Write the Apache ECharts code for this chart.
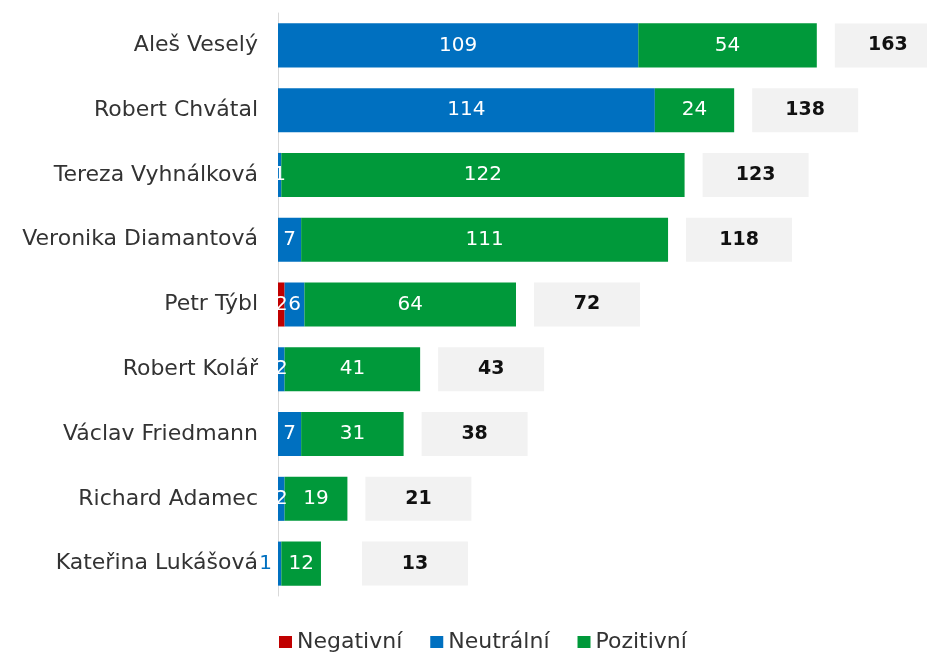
<!DOCTYPE html>
<html>
<head>
<meta charset="utf-8">
<script src="https://cdn.jsdelivr.net/npm/echarts@6/dist/echarts.min.js"></script>
<style>
  html, body { margin: 0; padding: 0; background: #fff; }
  #chart { width: 927px; height: 655px; }
</style>
</head>
<body>
<div id="chart"></div>
<script>
// data, top to bottom
const names = ['Aleš Veselý', 'Robert Chvátal', 'Tereza Vyhnálková', 'Veronika Diamantová',
  'Petr Týbl', 'Robert Kolář', 'Václav Friedmann', 'Richard Adamec', 'Kateřina Lukášová'];
const negativni = [0, 0, 0, 0, 2, 0, 0, 0, 0];
const neutralni = [109, 114, 1, 7, 6, 2, 7, 2, 1];
const pozitivni = [54, 24, 122, 111, 64, 41, 31, 19, 12];
const totals = names.map((n, i) => negativni[i] + neutralni[i] + pozitivni[i]);

const FONT = 'DejaVu Sans';
const RED = '#C00000', BLUE = '#0070C0', GREEN = '#00993A';
const last = names.length - 1;

const insideLabel = {
  show: true,
  position: 'inside',
  color: '#fff',
  fontFamily: FONT,
  fontSize: 20,
  formatter: p => (p.value ? p.value : '')
};

// last neutral value sits left of the axis in blue
const neutralData = neutralni.map((v, i) => i === last
  ? { value: v, label: { position: 'left', distance: 6, color: BLUE } }
  : v);

// the last total box is pushed a bit further right in the original
const totalData = totals.map((v, i) => i === last
  ? { value: v, label: { distance: 41 } }
  : v);

const chart = echarts.init(document.getElementById('chart'));
chart.setOption({
  animation: false,
  textStyle: { fontFamily: FONT },
  grid: { left: 278, right: 54, top: 13, bottom: 59 },
  legend: {
    data: ['Negativní', 'Neutrální', 'Pozitivní'],
    left: 279,
    top: 631,
    padding: 0,
    icon: 'rect',
    itemWidth: 13,
    itemHeight: 12,
    itemGap: 28,
    textStyle: { fontFamily: FONT, fontSize: 22, color: '#333' }
  },
  xAxis: {
    type: 'value',
    min: 0,
    max: 180,
    show: false
  },
  yAxis: {
    type: 'category',
    inverse: true,
    data: names,
    axisLine: { show: true, lineStyle: { color: '#d9d9d9', width: 1 } },
    axisTick: { show: false },
    axisLabel: { margin: 20, color: '#333', fontFamily: FONT, fontSize: 22 }
  },
  series: [
    {
      name: 'Celkem',
      type: 'bar',
      data: totalData,
      barGap: '-100%',
      barCategoryGap: '32%',
      z: 1,
      itemStyle: { color: 'rgba(0,0,0,0)' },
      label: {
        show: true,
        position: 'right',
        distance: 18,
        backgroundColor: '#f2f2f2',
        formatter: p => '{t|' + p.value + '}',
        rich: {
          t: {
            width: 106, height: 44, lineHeight: 44, align: 'center',
            fontFamily: FONT, fontSize: 19, fontWeight: 'bold', color: '#111'
          }
        }
      }
    },
    {
      name: 'Negativní', type: 'bar', stack: 'total', z: 2,
      barGap: '-100%', barCategoryGap: '32%',
      itemStyle: { color: RED }, label: insideLabel, data: negativni
    },
    {
      name: 'Neutrální', type: 'bar', stack: 'total', z: 2,
      barGap: '-100%', barCategoryGap: '32%',
      itemStyle: { color: BLUE }, label: insideLabel, data: neutralData
    },
    {
      name: 'Pozitivní', type: 'bar', stack: 'total', z: 2,
      barGap: '-100%', barCategoryGap: '32%',
      itemStyle: { color: GREEN }, label: insideLabel, data: pozitivni
    }
  ]
});
</script>
</body>
</html>
